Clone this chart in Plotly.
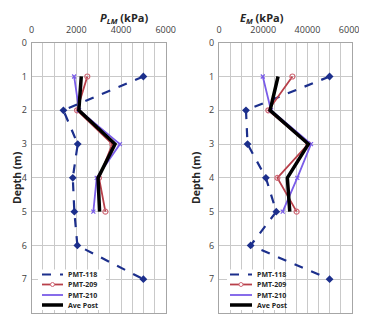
import plotly.graph_objects as go

depth_118 = [1, 2, 3, 4, 5, 6, 7]
depth_post = [1, 2, 3, 4, 5]

plm_118 = [5000, 1420, 2060, 1840, 1910, 2045, 5000]
plm_209 = [2490, 2030, 3610, 3015, 3300]
plm_210 = [1900, 2120, 3950, 2910, 2760]
plm_ave = [2220, 2110, 3730, 2970, 3040]

em_118 = [50000, 12200, 12900, 21200, 25900, 14300, 50000]
em_209 = [33200, 22300, 40300, 26400, 35100]
em_210 = [19800, 23500, 41600, 35400, 28800]
em_ave = [26700, 23100, 40400, 30900, 32000]

series_names = ["PMT-118", "PMT-209", "PMT-210", "Ave Post"]
plm_ticks = [0, 2000, 4000, 6000]
em_ticks = [0, 20000, 40000, 60000]
depth_ticks = [0, 1, 2, 3, 4, 5, 6, 7, 8]

C118 = "#1c2f8c"
C209 = "#b8404a"
C210 = "#7a5ce8"
CAVE = "#000000"

# page body has an 8px default margin; size the figure to the visible area
OFF = 8
W, H = 367 - OFF, 317 - OFF
fig = go.Figure()

def add_panel(xa, ya, v118, v209, v210, vave):
    fig.add_trace(go.Scatter(x=v118, y=depth_118, mode="lines+markers", xaxis=xa, yaxis=ya,
                             line=dict(color=C118, width=2.2, dash="dash"),
                             marker=dict(symbol="diamond", size=6, color=C118), showlegend=False))
    fig.add_trace(go.Scatter(x=v209, y=depth_post, mode="lines+markers", xaxis=xa, yaxis=ya,
                             line=dict(color=C209, width=1.8),
                             marker=dict(symbol="circle-open", size=5, color="#d06a78", line=dict(width=1.2)),
                             showlegend=False))
    fig.add_trace(go.Scatter(x=v210, y=depth_post, mode="lines+markers", xaxis=xa, yaxis=ya,
                             line=dict(color=C210, width=1.8),
                             marker=dict(symbol="x-thin", size=4, color=C210, line=dict(width=1.2, color=C210)),
                             showlegend=False))
    fig.add_trace(go.Scatter(x=vave, y=depth_post, mode="lines", xaxis=xa, yaxis=ya,
                             line=dict(color=CAVE, width=3.5), showlegend=False))

add_panel("x", "y", plm_118, plm_209, plm_210, plm_ave)
add_panel("x2", "y2", em_118, em_209, em_210, em_ave)

def px_x(p):
    return (p - OFF) / W

def px_y(p):
    return 1 - (p - OFF) / H

dom1 = [px_x(31.7), px_x(165.7)]
dom2 = [px_x(219), px_x(351.7)]
ydom = [px_y(313), px_y(42.7)]

tickfont = dict(family="Open Sans, Arial", size=9, color="#404040")
gridc = "#c9c9c9"

def xaxis_cfg(dom, rng, ticks, minor):
    return dict(domain=dom, range=rng, side="top", tickvals=ticks,
                ticktext=[str(t) for t in ticks], tickfont=tickfont,
                showgrid=True, gridcolor=gridc, gridwidth=1,
                minor=dict(dtick=minor, showgrid=True, gridcolor=gridc, gridwidth=1),
                showline=True, linecolor="#a6a6a6", linewidth=1, mirror=True,
                zeroline=False, ticks="", ticklabelstandoff=5, fixedrange=True, automargin=False)

def yaxis_cfg(anchor):
    return dict(domain=ydom, range=[8, 0], tickvals=depth_ticks,
                ticktext=[str(t) for t in depth_ticks], tickfont=tickfont,
                showgrid=True, gridcolor=gridc, gridwidth=1, anchor=anchor,
                showline=True, linecolor="#a6a6a6", linewidth=1, mirror=True,
                zeroline=False, ticks="", ticklabelstandoff=2, fixedrange=True, automargin=False)

fig.update_layout(
    width=W, height=H, margin=dict(l=0, r=0, t=0, b=0, autoexpand=False),
    paper_bgcolor="white", plot_bgcolor="white", showlegend=False,
    xaxis=xaxis_cfg(dom1, [0, 6000], plm_ticks, 500) | dict(anchor="y"),
    yaxis=yaxis_cfg("x"),
    xaxis2=xaxis_cfg(dom2, [0, 60000], em_ticks, 5000) | dict(anchor="y2"),
    yaxis2=yaxis_cfg("x2"),
)

annots = []
shapes = []
titlefont = dict(family="Open Sans, Arial", size=11, color="#262626")
annots.append(dict(text="<b><i>P</i><sub><i>LM</i></sub> (kPa)</b>", x=px_x(98.7), y=px_y(9),
                   xref="paper", yref="paper", showarrow=False, font=titlefont, borderpad=0))
annots.append(dict(text="<b><i>E</i><sub><i>M</i></sub> (kPa)</b>", x=px_x(285), y=px_y(9),
                   xref="paper", yref="paper", showarrow=False, font=titlefont, borderpad=0))
for xc in (8, 196):
    annots.append(dict(text="<b>Depth (m)</b>", x=px_x(xc), y=px_y(178), xref="paper", yref="paper",
                       showarrow=False, textangle=-90, font=dict(family="Open Sans, Arial", size=10.5, color="#262626")))

# legends
legfont = dict(family="Open Sans, Arial", size=7, color="#262626")
styles = [
    dict(color=C118, width=2.2, dash="dash"),
    dict(color=C209, width=1.8),
    dict(color=C210, width=1.8),
    dict(color=CAVE, width=3.5),
]
rows = [274.5, 284.5, 295, 305]
for (bx0, bx1, lx0, lx1, tx) in [(38, 106, 42, 63, 66), (227, 284, 230, 252, 255)]:
    shapes.append(dict(type="rect", xref="paper", yref="paper", x0=px_x(bx0), x1=px_x(bx1),
                       y0=px_y(310), y1=px_y(269.5), fillcolor="white", line=dict(width=0), layer="above"))
    for name, st, ry in zip(series_names, styles, rows):
        shapes.append(dict(type="line", xref="paper", yref="paper", x0=px_x(lx0), x1=px_x(lx1),
                           y0=px_y(ry), y1=px_y(ry), line=st, layer="above"))
        annots.append(dict(text="<b>" + name + "</b>", x=px_x(tx), y=px_y(ry), xref="paper", yref="paper",
                           xanchor="left", yanchor="middle", showarrow=False, font=legfont))
    mx = (lx0 + lx1) / 2
    shapes.append(dict(type="circle", xref="paper", yref="paper", x0=px_x(mx - 2), x1=px_x(mx + 2),
                       y0=px_y(rows[1] - 2), y1=px_y(rows[1] + 2), line=dict(color="#d06a78", width=1),
                       fillcolor="white", layer="above"))

fig.update_layout(annotations=annots, shapes=shapes)
fig.write_html("out.html")
